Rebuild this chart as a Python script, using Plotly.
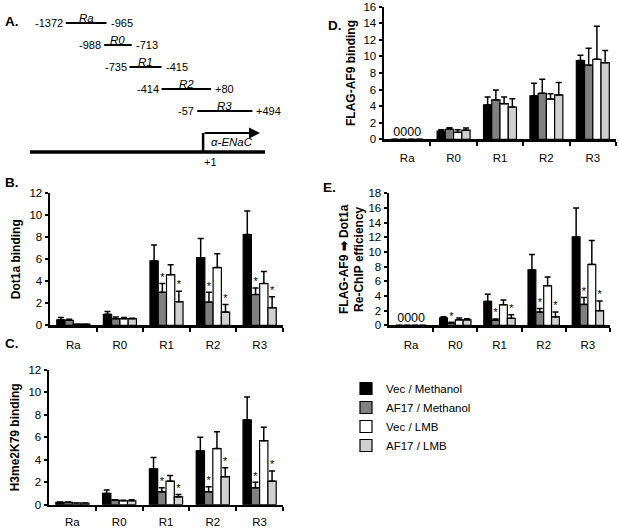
import plotly.graph_objects as go

# ---------------- data ----------------
CATEGORIES = ["Ra", "R0", "R1", "R2", "R3"]
SERIES_NAMES = ["Vec / Methanol", "AF17 / Methanol", "Vec / LMB", "AF17 / LMB"]
SERIES_COLORS = ["#000000", "#808080", "#ffffff", "#d0d0d0"]

# Panel B: Dot1a binding (mean, upper error)
dot1a_vec_meth = [0.5, 1.0, 5.85, 6.15, 8.25]
dot1a_af17_meth = [0.45, 0.6, 3.0, 2.1, 2.8]
dot1a_vec_lmb = [0.1, 0.6, 4.6, 5.25, 3.8]
dot1a_af17_lmb = [0.1, 0.6, 2.15, 1.2, 1.6]
dot1a_vec_meth_err = [0.2, 0.25, 1.45, 1.75, 2.15]
dot1a_af17_meth_err = [0.1, 0.15, 0.8, 0.9, 0.6]
dot1a_vec_lmb_err = [0.0, 0.1, 0.9, 1.25, 1.1]
dot1a_af17_lmb_err = [0.0, 0.05, 0.95, 0.7, 1.0]
dot1a_sig_af17_meth = [False, False, True, True, True]
dot1a_sig_af17_lmb = [False, False, True, True, True]

# Panel C: H3me2K79 binding
h3_vec_meth = [0.2, 1.0, 3.2, 4.8, 7.55]
h3_af17_meth = [0.2, 0.4, 1.15, 1.15, 1.5]
h3_vec_lmb = [0.15, 0.35, 2.1, 5.0, 5.7]
h3_af17_lmb = [0.15, 0.35, 0.7, 2.5, 2.1]
h3_vec_meth_err = [0.05, 0.3, 1.0, 1.2, 2.05]
h3_af17_meth_err = [0.05, 0.05, 0.35, 0.45, 0.5]
h3_vec_lmb_err = [0.0, 0.05, 0.5, 1.5, 1.2]
h3_af17_lmb_err = [0.0, 0.1, 0.2, 0.8, 0.9]
h3_sig_af17_meth = [False, False, True, True, True]
h3_sig_af17_lmb = [False, False, True, True, True]

# Panel D: FLAG-AF9 binding
af9_vec_meth = [0, 1.0, 4.15, 5.25, 9.5]
af9_af17_meth = [0, 1.2, 4.75, 5.55, 8.95]
af9_vec_lmb = [0, 0.85, 4.3, 4.85, 9.65]
af9_af17_lmb = [0, 1.1, 3.9, 5.35, 9.25]
af9_vec_meth_err = [0, 0.15, 0.95, 1.5, 0.65]
af9_af17_meth_err = [0, 0.2, 1.2, 1.7, 2.05]
af9_vec_lmb_err = [0, 0.3, 0.8, 0.65, 4.0]
af9_af17_lmb_err = [0, 0.25, 1.0, 1.5, 1.45]
af9_sig_af17_meth = [False] * 5
af9_sig_af17_lmb = [False] * 5

# Panel E: FLAG-AF9 -> Dot1a Re-ChIP efficiency
rechip_vec_meth = [0, 1.0, 3.25, 7.55, 12.05]
rechip_af17_meth = [0, 0.3, 0.7, 1.8, 2.85]
rechip_vec_lmb = [0, 0.75, 2.8, 5.4, 8.3]
rechip_af17_lmb = [0, 0.75, 0.95, 1.15, 2.0]
rechip_vec_meth_err = [0, 0.15, 1.0, 2.1, 3.95]
rechip_af17_meth_err = [0, 0.1, 0.15, 0.5, 0.95]
rechip_vec_lmb_err = [0, 0.25, 0.65, 1.2, 3.25]
rechip_af17_lmb_err = [0, 0.15, 0.5, 0.65, 1.3]
rechip_sig_af17_meth = [False, True, True, True, True]
rechip_sig_af17_lmb = [False, False, True, True, True]

# Panel A: amplicon regions (bp relative to TSS)
REGION_NAMES = ["Ra", "R0", "R1", "R2", "R3"]
REGION_START = [-1372, -988, -735, -414, -57]
REGION_END = [-965, -713, -415, 80, 494]
GENE_NAME = "α-ENaC"

# ---------------- figure ----------------
W, H = 619, 529
FONT = "Liberation Sans, Arial, sans-serif"
BARGAP = 0.29
GROUP_W = 1 - BARGAP

fig = go.Figure()


def px_x(p):
    return p / W


def px_y(p):
    return 1 - p / H


panels = [
    dict(ax="", x=(50, 283), y=(193.3, 325.3), ymax=12, dtick=2, title="<b>Dot1a binding</b>",
         data=[dot1a_vec_meth, dot1a_af17_meth, dot1a_vec_lmb, dot1a_af17_lmb],
         err=[dot1a_vec_meth_err, dot1a_af17_meth_err, dot1a_vec_lmb_err, dot1a_af17_lmb_err],
         sig=[None, dot1a_sig_af17_meth, None, dot1a_sig_af17_lmb], zeros=False, legend=True,
         standoff=6, lblstand=7),
    dict(ax="2", x=(49, 283), y=(370, 504.7), ymax=12, dtick=2, title="<b>H3me2K79 binding</b>",
         data=[h3_vec_meth, h3_af17_meth, h3_vec_lmb, h3_af17_lmb],
         err=[h3_vec_meth_err, h3_af17_meth_err, h3_vec_lmb_err, h3_af17_lmb_err],
         sig=[None, h3_sig_af17_meth, None, h3_sig_af17_lmb], zeros=False, legend=False,
         standoff=6, lblstand=5),
    dict(ax="3", x=(384, 616), y=(6.7, 139.3), ymax=16, dtick=2, title="<b>FLAG-AF9 binding</b>",
         data=[af9_vec_meth, af9_af17_meth, af9_vec_lmb, af9_af17_lmb],
         err=[af9_vec_meth_err, af9_af17_meth_err, af9_vec_lmb_err, af9_af17_lmb_err],
         sig=[None, af9_sig_af17_meth, None, af9_sig_af17_lmb], zeros=True, legend=False,
         standoff=5, lblstand=6),
    dict(ax="4", x=(389, 610), y=(193.3, 325.3), ymax=18, dtick=2,
         title="<b>FLAG-AF9 \u27a1 Dot1a<br>Re-ChIP efficiency</b>",
         data=[rechip_vec_meth, rechip_af17_meth, rechip_vec_lmb, rechip_af17_lmb],
         err=[rechip_vec_meth_err, rechip_af17_meth_err, rechip_vec_lmb_err, rechip_af17_lmb_err],
         sig=[None, rechip_sig_af17_meth, None, rechip_sig_af17_lmb], zeros=True, legend=False,
         standoff=2, lblstand=7),
]

idx = list(range(len(CATEGORIES)))
layout_axes = {}
for p in panels:
    xa, ya = "x" + p["ax"], "y" + p["ax"]
    for k, (vals, errs, name, color) in enumerate(zip(p["data"], p["err"], SERIES_NAMES, SERIES_COLORS)):
        fig.add_trace(go.Bar(
            x=idx, y=vals, name=name, xaxis=xa, yaxis=ya,
            marker=dict(color=color, line=dict(color="#000000", width=1.2)),
            error_y=dict(type="data", symmetric=False, array=errs, arrayminus=[0] * len(errs),
                         color="#000000", thickness=1.5, width=3),
            showlegend=p["legend"], legendgroup=name,
        ))
        sig = p["sig"][k]
        if sig:
            off = -GROUP_W / 2 + (k + 0.5) * GROUP_W / len(SERIES_NAMES)
            sx = [i + off for i, s in zip(idx, sig) if s]
            sy = [v + e for v, e, s in zip(vals, errs, sig) if s]
            fig.add_trace(go.Scatter(
                x=sx, y=sy, mode="text", text=["*"] * len(sx), textposition="top center",
                textfont=dict(size=11, color="#000000", family=FONT),
                xaxis=xa, yaxis=ya, showlegend=False, hoverinfo="skip", cliponaxis=False,
            ))
    if p["zeros"]:
        fig.add_trace(go.Scatter(
            x=[idx[0]], y=[0], mode="text", text=["0000"], textposition="top center",
            textfont=dict(size=12.5, color="#000000", family=FONT),
            xaxis=xa, yaxis=ya, showlegend=False, hoverinfo="skip", cliponaxis=False,
        ))
    xkey = "xaxis" + p["ax"]
    ykey = "yaxis" + p["ax"]
    layout_axes[xkey] = dict(
        domain=[px_x(p["x"][0]), px_x(p["x"][1])], anchor=ya, range=[-0.5, len(CATEGORIES) - 0.5],
        tickvals=idx, ticktext=CATEGORIES, ticks="", showline=True, linecolor="#000000", linewidth=2.5,
        showgrid=False, zeroline=False, ticklabelstandoff=p["lblstand"], automargin=False,
        tickfont=dict(size=11.5, color="#000000", family=FONT),
        minor=dict(tickvals=[i + 0.5 for i in idx], ticks="outside", ticklen=4, tickwidth=2,
                   tickcolor="#000000", showgrid=False),
        fixedrange=True,
    )
    layout_axes[ykey] = dict(
        domain=[px_y(p["y"][1]), px_y(p["y"][0])], anchor=xa, range=[0, p["ymax"]], dtick=p["dtick"],
        ticks="outside", ticklen=3, tickwidth=2, tickcolor="#000000", automargin=False,
        showline=True, linecolor="#000000", linewidth=2.5, showgrid=False, zeroline=False,
        tickfont=dict(size=11.5, color="#000000", family=FONT),
        title=dict(text=p["title"], font=dict(size=12, color="#000000", family=FONT), standoff=p["standoff"]),
        fixedrange=True,
    )

fig.update_layout(**layout_axes)

# ---------------- panel A: promoter schematic ----------------
# invisible full-figure axes: x in bp relative to TSS, y in row index
layout_axes_a = dict(
    xaxis5=dict(domain=[0, 1], range=[-2030, 4160], visible=False, anchor="y5", fixedrange=True,
                automargin=False),
    yaxis5=dict(domain=[0, 1], range=[23, -1.045], visible=False, anchor="x5", fixedrange=True,
                automargin=False),
)
fig.update_layout(**layout_axes_a)
fig.add_trace(go.Scatter(x=[0], y=[0], xaxis="x5", yaxis="y5", mode="markers",
                         marker=dict(opacity=0), showlegend=False, hoverinfo="skip"))

GENE_ROW = len(REGION_NAMES) + 0.86
ARROW_ROW = len(REGION_NAMES)
DIAGRAM_LEFT = -1730
DIAGRAM_RIGHT = 620

shapes = []
annotations = []


def fmt(v):
    return f"+{v}" if v > 0 else f"{v}"


for r, (nm, s, e) in enumerate(zip(REGION_NAMES, REGION_START, REGION_END)):
    shapes.append(dict(type="line", xref="x5", yref="y5", x0=s, x1=e, y0=r, y1=r,
                       line=dict(color="#000000", width=2)))
    annotations.append(dict(xref="x5", yref="y5", x=s, y=r, text=fmt(s), showarrow=False,
                            xanchor="right", yanchor="middle", xshift=-1,
                            font=dict(size=11, color="#000000", family=FONT)))
    annotations.append(dict(xref="x5", yref="y5", x=e, y=r, text=fmt(e), showarrow=False,
                            xanchor="left", yanchor="middle", xshift=2,
                            font=dict(size=11, color="#000000", family=FONT)))
    annotations.append(dict(xref="x5", yref="y5", x=(s + e) / 2, y=r, text=f"<i>{nm}</i>",
                            showarrow=False, xanchor="center", yanchor="bottom", yshift=-3,
                            font=dict(size=11.5, color="#000000", family=FONT)))

shapes.append(dict(type="line", xref="x5", yref="y5", x0=DIAGRAM_LEFT, x1=DIAGRAM_RIGHT,
                   y0=GENE_ROW, y1=GENE_ROW, line=dict(color="#000000", width=3.5)))
shapes.append(dict(type="line", xref="x5", yref="y5", x0=1, x1=1,
                   y0=GENE_ROW, y1=ARROW_ROW, line=dict(color="#000000", width=2.5)))
annotations.append(dict(xref="x5", yref="y5", axref="x5", ayref="y5", x=DIAGRAM_RIGHT - 50, y=ARROW_ROW,
                        ax=1, ay=ARROW_ROW, showarrow=True, arrowhead=2, arrowsize=1, arrowwidth=2.2,
                        arrowcolor="#000000", text=""))
annotations.append(dict(xref="x5", yref="y5", x=(1 + DIAGRAM_RIGHT - 50) / 2, y=(ARROW_ROW + GENE_ROW) / 2,
                        text=f"<i>{GENE_NAME}</i>", showarrow=False,
                        font=dict(size=11.5, color="#000000", family=FONT)))
annotations.append(dict(xref="x5", yref="y5", x=1, y=GENE_ROW, text="+1", showarrow=False,
                        yanchor="top", yshift=-2, xanchor="left", xshift=-1,
                        font=dict(size=11, color="#000000", family=FONT)))

# panel letters
for letter, (lx, ly) in zip(["A.", "B.", "C.", "D.", "E."],
                            [(12, 22), (12, 183), (12, 343), (335, 25), (329, 187)]):
    annotations.append(dict(xref="paper", yref="paper", x=px_x(lx), y=px_y(ly), text=f"<b>{letter}</b>",
                            showarrow=False, xanchor="center", yanchor="middle",
                            font=dict(size=13.5, color="#000000", family=FONT)))

fig.update_layout(
    template="none",
    width=W, height=H, autosize=False,
    margin=dict(l=0, r=0, t=0, b=0, pad=0, autoexpand=False),
    paper_bgcolor="#ffffff", plot_bgcolor="rgba(0,0,0,0)",
    barmode="group", bargap=BARGAP, bargroupgap=0,
    shapes=shapes, annotations=annotations,
    showlegend=True,
    legend=dict(x=px_x(346), y=px_y(374), xanchor="left", yanchor="top",
                font=dict(size=11.5, color="#000000", family=FONT),
                bgcolor="rgba(0,0,0,0)", borderwidth=0, tracegroupgap=0, itemclick=False),
    font=dict(family=FONT, color="#000000"),
)

fig.write_html(
    "out.html",
    config=dict(displayModeBar=False, staticPlot=True),
    post_script="document.body.style.margin='0';document.body.style.padding='0';"
                "document.documentElement.style.overflow='hidden';document.body.style.overflow='hidden';",
)
